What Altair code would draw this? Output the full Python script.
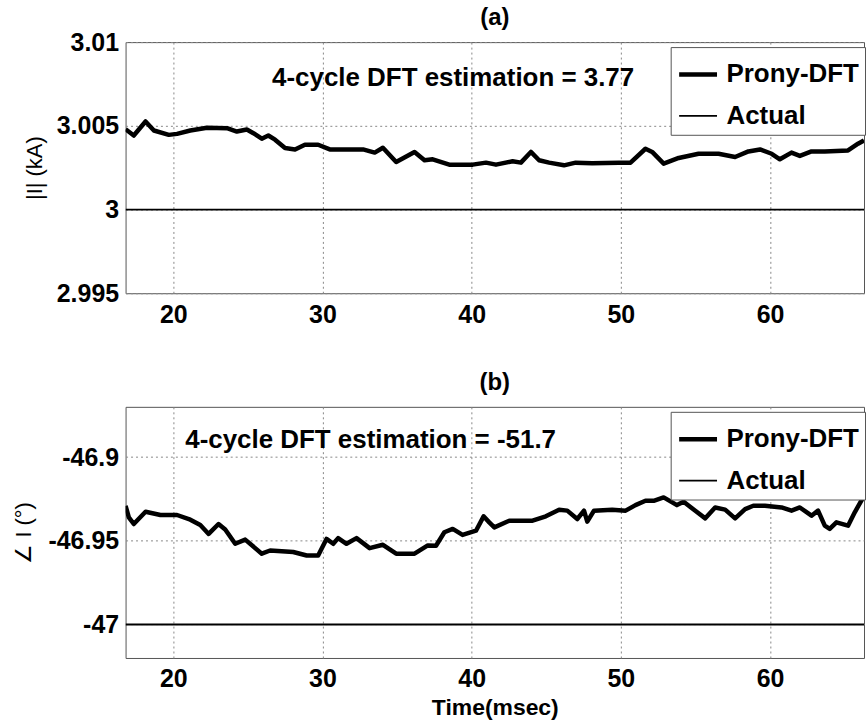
import altair as alt
import pandas as pd

FONT = "Liberation Sans"
series = ["Prony-DFT", "Actual"]
x_domain = [16.8, 66.3]
x_ticks = [20, 30, 40, 50, 60]

# ---- panel (a): current magnitude (kA)
a_t = [16.8, 17.35, 18.14, 18.7, 19.7, 20.25, 21.14, 22.26, 23.6, 24.26, 24.93, 25.37,
       25.93, 26.37, 26.82, 27.49, 28.16, 28.82, 29.71, 30.49, 31.38, 32.72, 33.5, 34.05,
       34.94, 36.17, 36.84, 37.39, 38.5, 40.07, 40.96, 41.63, 42.74, 43.3, 43.97, 44.52,
       45.19, 46.19, 46.97, 48.08, 49.87, 50.65, 51.65, 52.1, 52.87, 53.88, 55.21, 56.55,
       57.66, 58.55, 59.33, 60.11, 60.66, 61.44, 62.0, 62.78, 63.67, 65.23, 65.9, 66.3]
a_prony = [3.0048, 3.00442, 3.00526, 3.00472, 3.00446, 3.00452, 3.00472, 3.00488, 3.00486,
           3.00466, 3.00478, 3.00456, 3.00423, 3.00442, 3.00417, 3.00367, 3.00359, 3.00387,
           3.00387, 3.00359, 3.00359, 3.00359, 3.0034, 3.00369, 3.00284, 3.00344, 3.00294,
           3.003, 3.00268, 3.00268, 3.0028, 3.00268, 3.00288, 3.0028, 3.00344, 3.00294,
           3.0028, 3.00264, 3.0028, 3.00276, 3.0028, 3.0028, 3.00363, 3.00344, 3.00274,
           3.00308, 3.00333, 3.00333, 3.00314, 3.00347, 3.00359, 3.00333, 3.003, 3.0034,
           3.0032, 3.00347, 3.00347, 3.00353, 3.00393, 3.00413]
a_actual_t = [16.8, 66.3]
a_actual = [3.0, 3.0]
a_domain = [2.995, 3.01]
a_ticks = [2.995, 3.0, 3.005, 3.01]
a_note = "4-cycle DFT estimation = 3.77"
a_note_pos = [26.62, 3.00786]

# ---- panel (b): current angle (deg)
b_t = [16.8, 17.02, 17.35, 18.14, 19.14, 20.25, 21.14, 21.81, 22.37, 23.03, 23.48, 24.15,
       24.82, 25.93, 26.49, 28.04, 28.94, 29.71, 30.27, 30.72, 31.05, 31.61, 32.28, 33.16,
       34.05, 34.94, 36.17, 37.06, 37.61, 38.17, 38.73, 39.39, 40.29, 40.8, 41.18, 41.52,
       42.52, 44.08, 44.97, 45.86, 46.41, 47.08, 47.53, 47.75, 48.2, 49.42, 50.32, 50.98,
       51.65, 52.2, 52.87, 53.76, 54.21, 54.99, 55.66, 56.32, 56.99, 57.66, 58.33, 58.88,
       59.66, 60.77, 61.44, 62.0, 62.78, 63.22, 63.67, 64.0, 64.45, 65.23, 65.68, 66.3]
b_prony = [-46.9291, -46.936, -46.94, -46.9327, -46.9346, -46.9346, -46.9374, -46.9406,
           -46.9459, -46.94, -46.9433, -46.9518, -46.9493, -46.9577, -46.9558, -46.9567,
           -46.9588, -46.9588, -46.9489, -46.9518, -46.9484, -46.9518, -46.9484, -46.9544,
           -46.9524, -46.9577, -46.9577, -46.9528, -46.953, -46.9449, -46.9429, -46.9465,
           -46.944, -46.9354, -46.939, -46.942, -46.938, -46.938, -46.9354, -46.9315,
           -46.932, -46.937, -46.932, -46.9386, -46.932, -46.9315, -46.932, -46.9287,
           -46.9261, -46.9261, -46.9241, -46.9287, -46.9267, -46.9321, -46.9366, -46.9301,
           -46.9314, -46.9366, -46.9311, -46.9291, -46.9291, -46.9301, -46.932, -46.9301,
           -46.935, -46.932, -46.941, -46.9429, -46.939, -46.941, -46.933, -46.9232]
b_actual_t = [16.8, 66.3]
b_actual = [-47.0, -47.0]
b_domain = [-47.02, -46.87]
b_ticks = [-47.0, -46.95, -46.9]
b_note = "4-cycle DFT estimation = -51.7"
b_note_pos = [20.8, -46.8896]


def make_df(t, prony, at, actual):
    d1 = pd.DataFrame({"t": t, "v": prony, "s": series[0]})
    d2 = pd.DataFrame({"t": at, "v": actual, "s": series[1]})
    return pd.concat([d1, d2], ignore_index=True)


def panel(df, ydomain, yticks, ytitle, title_txt, title_offset, note, note_pos, xtitle, title_x):
    leg = alt.Legend(title=None, orient="none", legendX=547, legendY=5,
                     symbolType="stroke", symbolSize=1444, labelFont=FONT,
                     labelFontSize=26, labelFontWeight="bold", labelColor="black",
                     padding=6, rowPadding=8, strokeColor="#555", fillColor="white",
                     labelOffset=7, labelLimit=400)
    x = alt.X("t:Q", scale=alt.Scale(domain=x_domain, nice=False, zero=False),
              axis=alt.Axis(values=x_ticks, title=xtitle, format="d"))
    y = alt.Y("v:Q", scale=alt.Scale(domain=ydomain, nice=False, zero=False),
              axis=alt.Axis(values=yticks, title=ytitle,
                            labelExpr="replace(format(datum.value, '~g'), '\u2212', '-')",
                            titleX=title_x, titleY=126, titleAngle=270,
                            titleBaseline="middle", titleAlign="center"))
    lines = alt.Chart(df).mark_line(clip=True, strokeJoin="round", strokeCap="butt").encode(
        x=x, y=y,
        color=alt.Color("s:N", scale=alt.Scale(domain=series, range=["black", "black"]), legend=leg),
        strokeWidth=alt.StrokeWidth("s:N", scale=alt.Scale(domain=series, range=[4.5, 1.8]), legend=leg),
    )
    ndf = pd.DataFrame({"t": [note_pos[0]], "v": [note_pos[1]], "label": [note]})
    text = alt.Chart(ndf).mark_text(align="left", baseline="middle", font=FONT,
                                    fontSize=26, fontWeight="bold", color="black").encode(
        x="t:Q", y="v:Q", text="label:N")
    return alt.layer(lines, text).properties(
        width=741, height=252,
        title=alt.TitleParams(title_txt, font=FONT, fontSize=24, fontWeight="bold",
                              anchor="middle", offset=title_offset, color="black"))


top = panel(make_df(a_t, a_prony, a_actual_t, a_actual), a_domain, a_ticks,
            "|I|  (kA)", "(a)", 0, a_note, a_note_pos, None, -91)
bottom = panel(make_df(b_t, b_prony, b_actual_t, b_actual), b_domain, b_ticks,
               "\u2220 I (\u00b0)", "(b)", 12, b_note, b_note_pos, "Time(msec)", -102)

chart = alt.vconcat(top, bottom, spacing=42, padding={"left": 12, "top": 4, "right": 0, "bottom": 0}).resolve_scale(
    color="independent", strokeWidth="independent", y="independent"
).configure_view(stroke="#555", strokeWidth=1).configure_axis(
    labelFont=FONT, labelFontSize=25, labelFontWeight="bold", labelColor="black",
    titleFont=FONT, titleColor="black", domain=False, ticks=False, labelPadding=7,
    grid=True, gridColor="#888", gridDash=[2, 3], gridWidth=1, gridOpacity=1,
).configure_axisX(
    titleFontSize=23, titleFontWeight="bold", titlePadding=5, labelPadding=9
).configure_axisY(
    titleFontSize=22, titleFontWeight="normal"
)

chart.save("out.html", embed_options={"renderer": "svg", "actions": False})
